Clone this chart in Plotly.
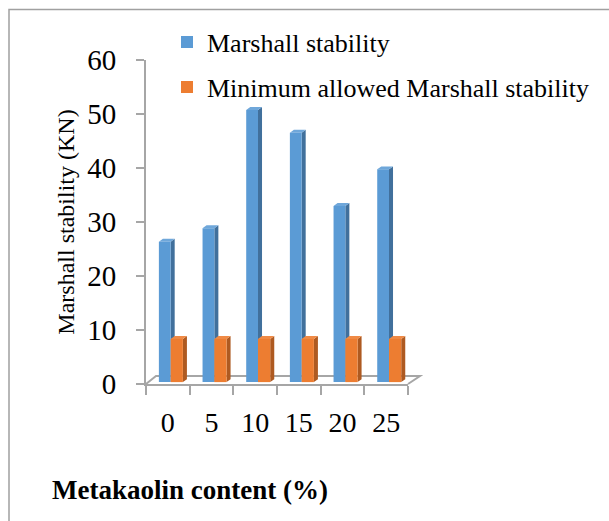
import plotly.graph_objects as go

# Data
categories = ["0", "5", "10", "15", "20", "25"]
marshall_stability = [26.0, 28.5, 50.4, 46.2, 32.6, 39.4]
minimum_allowed = [8, 8, 8, 8, 8, 8]
y_ticks = [0, 10, 20, 30, 40, 50, 60]

# Canvas and plot-area geometry (pixels)
W, H = 609, 521
L, R, T, B = 146, 408, 60, 384


def px(x):
    return (x - L) / (R - L)


def py(y):
    return (B - y) / (B - T)


FONT = "Liberation Serif"
AXIS_GREY = "#A6A6A6"
FLOOR_LIFT = 0.35          # bars stand slightly above the front floor edge
DX, DY = 0.092, 0.55       # depth of the pseudo-3D columns (axis units)

BLUE = dict(front="#5B9BD5", side="#41709C", top="#6FA7DA")
ORANGE = dict(front="#ED7D31", side="#AE5A21", top="#F08A45")

BLUE_OFFSET, BLUE_WIDTH = -0.205, 0.27
ORANGE_OFFSET, ORANGE_WIDTH = 0.065, 0.28

pos = list(range(len(categories)))

fig = go.Figure()
fig.add_trace(go.Bar(
    x=pos, y=marshall_stability, base=FLOOR_LIFT,
    offset=BLUE_OFFSET, width=BLUE_WIDTH,
    marker=dict(color=BLUE["front"], line=dict(width=0)),
    name="Marshall stability", legend="legend", showlegend=True,
))
fig.add_trace(go.Bar(
    x=pos, y=minimum_allowed, base=FLOOR_LIFT,
    offset=ORANGE_OFFSET, width=ORANGE_WIDTH,
    marker=dict(color=ORANGE["front"], line=dict(width=0)),
    name="Minimum allowed Marshall stability", legend="legend2",
    showlegend=True,
))

shapes = []


def add_faces(values, offset, width, colors):
    # side and top faces of each column, placed in data units
    for i, v in enumerate(values):
        x0 = i + offset
        x1 = x0 + width
        y0 = FLOOR_LIFT
        y1 = FLOOR_LIFT + v
        side = (f"M {x1},{y0} L {x1},{y1} L {x1 + DX},{y1 + DY} "
                f"L {x1 + DX},{y0 + DY} Z")
        top = (f"M {x0},{y1} L {x1},{y1} L {x1 + DX},{y1 + DY} "
               f"L {x0 + DX},{y1 + DY} Z")
        shapes.append(dict(type="path", path=side, xref="x", yref="y",
                           fillcolor=colors["side"], line=dict(width=0),
                           layer="below"))
        shapes.append(dict(type="path", path=top, xref="x", yref="y",
                           fillcolor=colors["top"], line=dict(width=0),
                           layer="below"))


add_faces(marshall_stability, BLUE_OFFSET, BLUE_WIDTH, BLUE)
add_faces(minimum_allowed, ORANGE_OFFSET, ORANGE_WIDTH, ORANGE)

# floor of the 3D plot box
floor = (f"M {px(146)},{py(384)} L {px(156)},{py(376)} "
         f"L {px(420)},{py(376)} L {px(408)},{py(384)}")
shapes.append(dict(type="path", path=floor, xref="paper", yref="paper",
                   line=dict(color=AXIS_GREY, width=2), layer="below"))

# chart frame
shapes.append(dict(type="rect", xref="paper", yref="paper",
                   x0=px(9), y0=py(560), x1=px(660), y1=py(9.5),
                   line=dict(color="#A0A0A0", width=1.5),
                   fillcolor="rgba(0,0,0,0)", layer="below"))

legend_font = dict(family=FONT, size=26, color="black")

fig.update_layout(
    width=W, height=H, autosize=False,
    margin=dict(l=L, r=W - R, t=T, b=H - B, pad=0),
    paper_bgcolor="white", plot_bgcolor="rgba(0,0,0,0)",
    barmode="overlay",
    showlegend=True,
    shapes=shapes,
    font=dict(family=FONT, color="black"),
    legend=dict(x=px(167), y=py(42), xanchor="left", yanchor="middle",
                font=legend_font, bgcolor="rgba(0,0,0,0)"),
    legend2=dict(x=px(167), y=py(87), xanchor="left", yanchor="middle",
                 font=legend_font, bgcolor="rgba(0,0,0,0)"),
    annotations=[dict(
        text="<b>Metakaolin content (%)</b>", xref="paper", yref="paper",
        x=px(50), y=py(490), xanchor="left", yanchor="middle",
        showarrow=False, font=dict(family=FONT, size=27, color="black"),
    )],
)

fig.update_xaxes(
    range=[-0.5, len(categories) - 0.5],
    tickvals=pos, ticktext=categories, ticks="",
    tickfont=dict(family=FONT, size=28, color="black"),
    ticklabelstandoff=12,
    minor=dict(tickvals=[i - 0.5 for i in range(len(categories) + 1)],
               ticks="outside", ticklen=9, tickwidth=2,
               tickcolor=AXIS_GREY, showgrid=False),
    showline=True, linecolor=AXIS_GREY, linewidth=2,
    showgrid=False, zeroline=False,
)
fig.update_yaxes(
    range=[0, 60], tickvals=y_ticks, ticks="outside", ticklen=8,
    tickwidth=2, tickcolor=AXIS_GREY,
    tickfont=dict(family=FONT, size=29, color="black"),
    ticklabelstandoff=14,
    showline=True, linecolor=AXIS_GREY, linewidth=2,
    showgrid=False, zeroline=False,
    title=dict(text="Marshall stability (KN)", standoff=6,
               font=dict(family=FONT, size=24, color="black")),
)

fig.write_html("out.html")
